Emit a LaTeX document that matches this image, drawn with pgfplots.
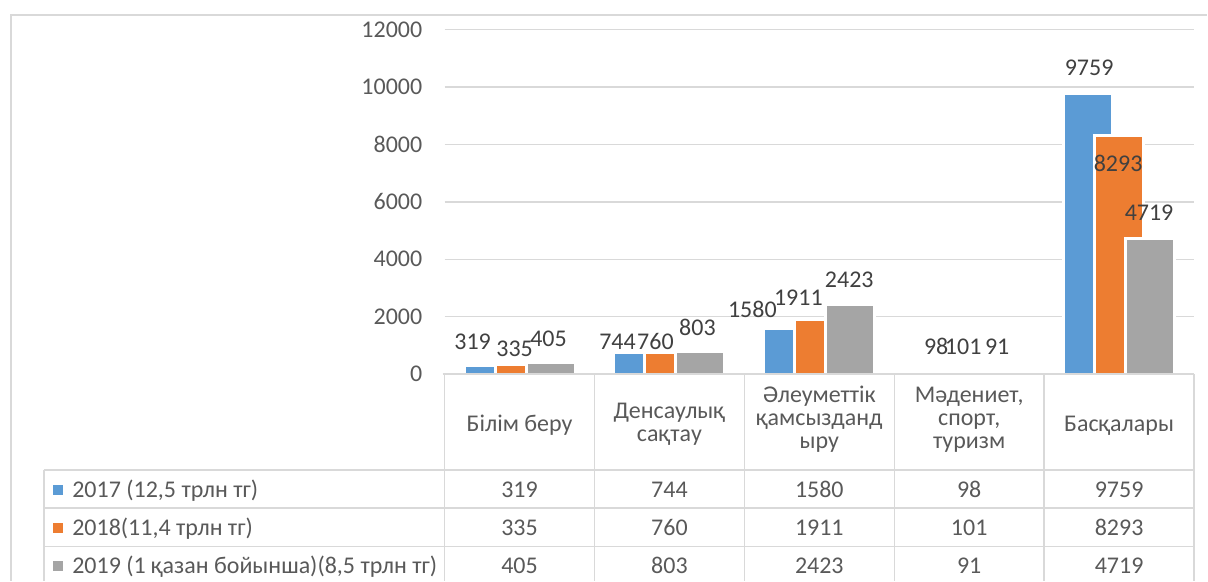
\documentclass[border=0pt]{standalone}
\usepackage{pgfplots}
\pgfplotsset{compat=1.18}
\usepackage{pgfplotstable}
\usepackage{fontspec}
\setmainfont{Carlito}

\definecolor{sBlue}{HTML}{5B9BD5}
\definecolor{sOrange}{HTML}{ED7D31}
\definecolor{sGray}{HTML}{A5A5A5}
\definecolor{txt}{HTML}{595959}
\definecolor{lbl}{HTML}{404040}
\definecolor{rule}{HTML}{D9D9D9}

% x = category, y = value, dx/dy = label offset (px) from category centre / bar top
\pgfplotstableread{
x y dx dy
0 319 -47 23
1 744 -52 11
2 1580 -67 19
3 98 -33 25
4 9759 -30 26
}\dataA
\pgfplotstableread{
x y dx dy
0 335 -5 16
1 760 -14 11
2 1911 -21 22
3 101 -6 25
4 8293 -1 -27
}\dataB
\pgfplotstableread{
x y dx dy
0 405 29 24
1 803 28 24
2 2423 30 25
3 91 28 25
4 4719 30 26
}\dataC

\pgfplotsset{
  colbar/.style={ybar, bar width=0.327, fill=#1, draw=white, line width=1.5pt,
    nodes near coords,
    every node near coord/.append style={anchor=center, inner sep=0pt,
      font=\fontsize{12}{14}\selectfont, text=lbl,
      xshift={\ldx*0.5pt}, yshift={\ldy*0.5pt}}},
}

\begin{document}
\begin{tikzpicture}
\begin{scope}[x=0.5pt,y=-0.5pt,shift={(-222.5pt,187.25pt)}]
\path[use as bounding box] (0,0) rectangle (1208,581);
\end{scope}

\begin{axis}[
  scale only axis, width=375pt, height=172.5pt,
  xmin=-0.5, xmax=4.5, ymin=0, ymax=12000,
  axis x line=none, axis y line*=left, y axis line style={draw=none},
  xtick=\empty, ytick={0,2000,...,12000}, major tick length=0pt,
  scaled y ticks=false,
  ymajorgrids, grid style={rule, line width=0.75pt},
  /pgf/number format/.cd, 1000 sep={}, assume math mode=true, /pgfplots/.cd,
  yticklabel style={anchor=east, inner sep=0pt, xshift=-11pt,
    font=\fontsize{12}{14}\selectfont, text=txt},
  clip=false,
]
\addplot[colbar=sBlue, bar shift=-0.207,
  visualization depends on={\thisrow{dx} \as \ldx},
  visualization depends on={\thisrow{dy} \as \ldy}]
  table[x=x, y=y] {\dataA};
\addplot[colbar=sOrange, bar shift=0,
  visualization depends on={\thisrow{dx} \as \ldx},
  visualization depends on={\thisrow{dy} \as \ldy}]
  table[x=x, y=y] {\dataB};
\addplot[colbar=sGray, bar shift=0.207,
  visualization depends on={\thisrow{dx} \as \ldx},
  visualization depends on={\thisrow{dy} \as \ldy}]
  table[x=x, y=y] {\dataC};
\end{axis}

\begin{scope}[x=0.5pt,y=-0.5pt,shift={(-222.5pt,187.25pt)},
  every node/.style={font=\fontsize{12}{14}\selectfont, text=txt, inner sep=0pt}]
% outer chart frame
\draw[rule, line width=1pt] (11,581) -- (11,15) -- (1208,15);
% data table grid
\draw[rule, line width=0.75pt] (443,374.5) -- (1195,374.5);
\foreach \vx in {445,595,745,895,1045,1195}
  \draw[rule, line width=0.75pt] (\vx,374.5) -- (\vx,581);
\foreach \hy in {470.5,508.5,547}
  \draw[rule, line width=0.75pt] (44,\hy) -- (1195,\hy);
\draw[rule, line width=0.75pt] (44,470.5) -- (44,581);

% category headers
\node[anchor=base] at (520,432) {Білім беру};
\node[anchor=base] at (670,419) {Денсаулық};
\node[anchor=base] at (670,442) {сақтау};
\node[anchor=base] at (820,403) {Әлеуметтік};
\node[anchor=base] at (820,426) {қамсызданд};
\node[anchor=base] at (820,449) {ыру};
\node[anchor=base] at (970,403) {Мәдениет,};
\node[anchor=base] at (970,426) {спорт,};
\node[anchor=base] at (970,449) {туризм};
\node[anchor=base] at (1120,432) {Басқалары};

% legend keys and series names
\fill[sBlue] (53,485) rectangle (63,495);
\fill[sOrange] (53,523) rectangle (63,533);
\fill[sGray] (53,561) rectangle (63,571);
\node[anchor=base west] at (72,497.5) {2017 (12,5 трлн тг)};
\node[anchor=base west] at (72,536) {2018(11,4 трлн тг)};
\node[anchor=base west] at (72,573.5) {2019 (1 қазан бойынша)(8,5 трлн тг)};

% table values
\foreach \c/\cx in {0/520,1/670,2/820,3/970,4/1120} {
  \pgfplotstablegetelem{\c}{y}\of\dataA
  \node[anchor=base] at (\cx,497.5) {\pgfplotsretval};
  \pgfplotstablegetelem{\c}{y}\of\dataB
  \node[anchor=base] at (\cx,536) {\pgfplotsretval};
  \pgfplotstablegetelem{\c}{y}\of\dataC
  \node[anchor=base] at (\cx,573.5) {\pgfplotsretval};
}
\end{scope}
\end{tikzpicture}
\end{document}
